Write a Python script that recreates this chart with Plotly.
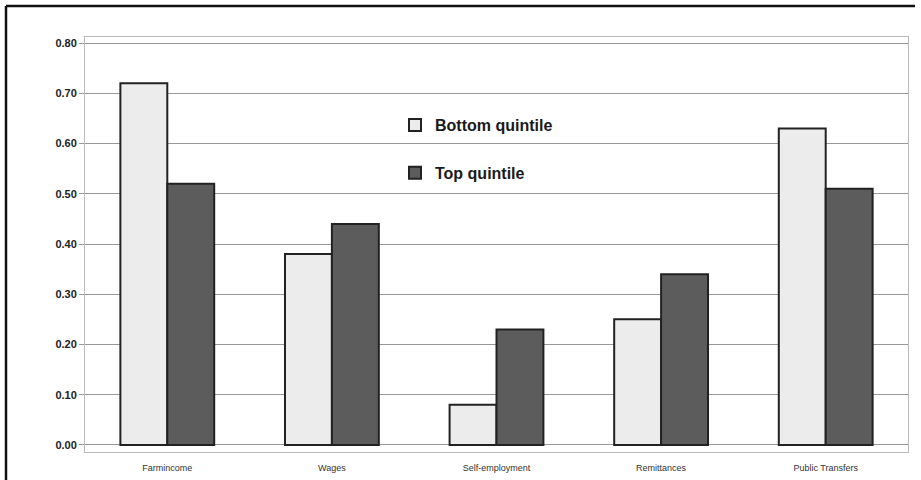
import plotly.graph_objects as go

categories = ["Farmincome", "Wages", "Self-employment", "Remittances", "Public Transfers"]
bottom_quintile = [0.72, 0.38, 0.08, 0.25, 0.63]
top_quintile = [0.52, 0.44, 0.23, 0.34, 0.51]
y_ticks = [0.0, 0.1, 0.2, 0.3, 0.4, 0.5, 0.6, 0.7, 0.8]

fig = go.Figure()
fig.add_trace(go.Bar(name="Bottom quintile", x=categories, y=bottom_quintile,
                     marker=dict(color="#ececec", line=dict(color="#222222", width=2)),
                     legendgroup="a"))
fig.add_trace(go.Bar(name="Top quintile", x=categories, y=top_quintile,
                     marker=dict(color="#5c5c5c", line=dict(color="#222222", width=2)),
                     legendgroup="b"))

W, H = 921, 480
ml, mr, mt, mb = 85, 13, 37, 28
pw, ph = W - ml - mr, H - mt - mb

def px_x(x):
    return (x - ml) / pw

def px_y(y):
    return (H - mb - y) / ph

fig.update_layout(
    width=W, height=H,
    margin=dict(l=ml, r=mr, t=mt, b=mb, pad=0),
    paper_bgcolor="white", plot_bgcolor="white",
    barmode="group", bargap=0.43, bargroupgap=0,
    font=dict(family="Liberation Sans, Arial, sans-serif", color="#222222"),
    legend=dict(x=px_x(395), y=px_y(108), xanchor="left", yanchor="top",
                font=dict(size=16, color="#1a1a1a", family="Liberation Sans, Arial, sans-serif",
                          weight="bold"),
                bgcolor="rgba(0,0,0,0)", traceorder="grouped", tracegroupgap=24,
                itemwidth=30),
    showlegend=True,
    shapes=[
        dict(type="line", xref="paper", yref="paper", x0=px_x(6), x1=px_x(915),
             y0=px_y(6), y1=px_y(6), line=dict(color="#111111", width=2.5)),
        dict(type="line", xref="paper", yref="paper", x0=px_x(6), x1=px_x(6),
             y0=px_y(6), y1=px_y(490), line=dict(color="#111111", width=2.5)),
    ],
)
fig.update_yaxes(range=[-0.014, 0.812], tickvals=y_ticks, tickformat=".2f",
                 automargin=False,
                 showgrid=True, gridcolor="#999999", gridwidth=1,
                 showline=True, linecolor="#bbbbbb", linewidth=1, mirror=True,
                 ticks="outside", ticklen=5, tickcolor="#999999",
                 zeroline=False,
                 tickfont=dict(size=11, family="Liberation Sans, Arial, sans-serif", color="#222222", weight="bold"))
fig.update_xaxes(showline=True, linecolor="#bbbbbb", linewidth=1, mirror=True,
                 automargin=False,
                 showgrid=False, ticks="", ticklabelstandoff=7,
                 tickfont=dict(size=9, family="Liberation Sans, Arial, sans-serif", color="#333333"))

fig.write_html("out.html", config={"displayModeBar": False},
               post_script="document.body.style.margin='0';document.body.style.overflow='hidden';")
